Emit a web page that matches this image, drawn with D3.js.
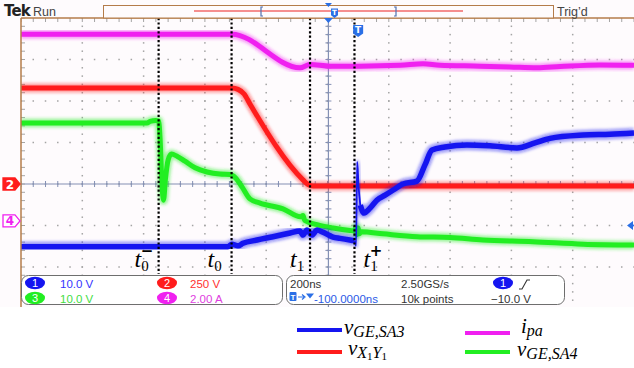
<!DOCTYPE html>
<html><head><meta charset="utf-8">
<script src="https://cdn.jsdelivr.net/npm/d3@7"></script>
<style>body{margin:0;background:#fff;}svg{display:block}</style>
</head><body>
<svg id="c" width="634" height="368"></svg>
<script>
// ---------------- DATA ----------------
const channelNames = ["1", "2", "3", "4"];
const channelScales = [10, 250, 10, 2];          // units per division
const channelUnits = ["V", "V", "V", "A"];
const channelGroundDiv = [0, 0, 0, -0.89];       // ground marker position (divisions from centre)
const timeDomainNs = [-1000, 1000];              // 200 ns/div, 10 divisions
const timePerDiv = 200;

// ch1: v_GE,SA3  [time ns, volts]
const vGE_SA3 = [[-1000,-15.1],[-325,-15.1],[-312,-14.5],[-292,-14.9],[-276,-14.3],[-230,-13.5],[-178,-12.7],[-122,-11.8],[-90,-11.3],[-80,-12.3],[-67,-11.1],[-51,-12.3],[-34,-11.1],[-15,-11.6],[18,-12.8],[41,-13.1],[73,-13.5],[88,-13.7],[93,-14.9],[97,5.3],[101,-0.2],[107,-5.1],[119,-7.0],[139,-5.8],[161,-3.9],[188,-2.7],[220,-1.2],[246,0.0],[292,0.7],[318,4.6],[341,8.2],[383,8.9],[455,9.4],[530,9.2],[618,8.7],[677,9.9],[726,11.0],[834,11.8],[922,12.0],[1000,12.3]];
// ch2: v_X1Y1  [time ns, volts]
const vX1Y1 = [[-1000,578],[-312,578],[-292,570],[-272,542],[-253,482],[-80,25],[-64,-2],[-47,-12],[1000,-12]];
// ch3: v_GE,SA4  [time ns, volts]
const vGE_SA4 = [[-1000,14.7],[-589,14.7],[-579,15.1],[-560,15.3],[-551,15.2],[-546,10.6],[-540,-0.2],[-535,-3.9],[-529,1.0],[-520,5.8],[-509,7.2],[-491,6.7],[-465,5.5],[-432,3.9],[-393,2.9],[-351,2.4],[-318,2.3],[-299,1.4],[-279,-0.7],[-253,-3.6],[-220,-4.6],[-145,-6.0],[-88,-7.9],[-80,-7.6],[-74,-8.8],[-34,-9.8],[18,-10.6],[73,-11.2],[88,-11.3],[92,-10.4],[96,-12.2],[100,-10.6],[104,-12.0],[110,-11.5],[181,-12.0],[292,-12.7],[400,-12.9],[507,-13.5],[670,-13.9],[834,-14.5],[1000,-14.7]];
// ch4: i_pa  [time ns, amps]
const iPa = [[-1000,9.0],[-312,9.0],[-90,7.38],[-57,7.54],[8,7.46],[106,7.46],[237,7.50],[312,7.58],[367,7.50],[498,7.46],[595,7.42],[684,7.38],[759,7.44],[889,7.52],[1000,7.50]];

const markerTimes = [-551, -313, -57, 88];
const markerLabels = [["t","0","−"],["t","0",""],["t","1",""],["t","1","+"]];
const triggerTimeNs = 100;
const expansionTimeNs = 3;
const triggerLevelV = -10;
const spikeWindowNs = [88, 107];   // fast transient drawn as a thin persistence trace

const legendItems = [
  {main:"v", sub:"GE,SA3", ch:0},
  {main:"i", sub:"pa", ch:3},
  {main:"v", sub:"X", ch:1},
  {main:"v", sub:"GE,SA4", ch:2}
];
const statusTexts = ["200ns", "2.50GS/s", "-100.0000ns", "10k points", "−10.0 V"];

// ---------------- STYLE / LAYOUT ----------------
const colors = ["#1515f0", "#ff1c1c", "#22ee22", "#f020f0"];
const textColors = ["#3535ff", "#ff3030", "#44dd44", "#e040e0"];
const P = {left:21, right:634, top:18, div:41.5, visBottom:307};
const svg = d3.select("#c");

const x = d3.scaleLinear().domain(timeDomainNs).range([P.left, P.right]);
const divY = d3.scaleLinear().domain([-4, 4]).range([P.top + 8*P.div, P.top]);
function chY(ch){
  const s = channelScales[ch], g = channelGroundDiv[ch];
  return d3.scaleLinear().domain([(-4-g)*s, (4-g)*s]).range(divY.range());
}

const defs = svg.append("defs");
defs.append("clipPath").attr("id","clip").append("rect")
  .attr("x",P.left).attr("y",P.top).attr("width",P.right-P.left).attr("height",P.visBottom-P.top);
const f = defs.append("filter").attr("id","glow").attr("x","-10%").attr("y","-10%").attr("width","120%").attr("height","120%");
f.append("feGaussianBlur").attr("stdDeviation",1.6);

// background
svg.append("rect").attr("width",634).attr("height",368).attr("fill","#ffffff");
svg.append("rect").attr("x",0).attr("y",0).attr("width",634).attr("height",P.visBottom).attr("fill","#fefbfd");

const g = svg.append("g").attr("clip-path","url(#clip)");

// grid dots
const gridColor = "#a4a4a4";
const dots = [];
for (let k=-3;k<=3;k++){
  for (let t=timeDomainNs[0]; t<=timeDomainNs[1]; t+=timePerDiv/5) dots.push([x(t), divY(k)]);
}
for (let t=timeDomainNs[0]+timePerDiv; t<timeDomainNs[1]; t+=timePerDiv){
  for (let j=-20;j<=20;j++) dots.push([x(t), divY(j/5)]);
}
g.selectAll("rect.dot").data(dots).join("rect").attr("class","dot")
  .attr("x",d=>d[0]-0.75).attr("y",d=>d[1]-0.75).attr("width",1.5).attr("height",1.5).attr("fill",gridColor);

// centre crosshair
const cross = "#8490b4";
g.append("line").attr("x1",P.left).attr("x2",P.right).attr("y1",divY(0)).attr("y2",divY(0)).attr("stroke",cross).attr("stroke-width",1.2);
g.append("line").attr("x1",x(expansionTimeNs)).attr("x2",x(expansionTimeNs)).attr("y1",P.top).attr("y2",P.visBottom).attr("stroke",cross).attr("stroke-width",1.2);
const hticks = d3.range(timeDomainNs[0], timeDomainNs[1]+1, timePerDiv/5);
g.selectAll("line.ht").data(hticks).join("line").attr("class","ht")
  .attr("x1",d=>x(d)).attr("x2",d=>x(d)).attr("y1",divY(0)-3).attr("y2",divY(0)+3).attr("stroke",cross);
g.selectAll("line.tt").data(hticks).join("line").attr("class","tt")
  .attr("x1",d=>x(d)).attr("x2",d=>x(d)).attr("y1",P.top).attr("y2",P.top+4).attr("stroke",gridColor);
const vticks = d3.range(-20,21).map(j=>j/5);
g.selectAll("line.vt").data(vticks).join("line").attr("class","vt")
  .attr("x1",x(expansionTimeNs)-3).attr("x2",x(expansionTimeNs)+3).attr("y1",d=>divY(d)).attr("y2",d=>divY(d)).attr("stroke",cross);
g.selectAll("line.lt").data(vticks).join("line").attr("class","lt")
  .attr("x1",P.left).attr("x2",P.left+4).attr("y1",d=>divY(d)).attr("y2",d=>divY(d)).attr("stroke",gridColor);

// traces
function drawTrace(data, ch, thin){
  const y = chY(ch);
  const line = d3.line().x(d=>x(d[0])).y(d=>y(d[1])).curve(d3.curveMonotoneX);
  if (thin){
    g.append("path").attr("d",line(data)).attr("fill","none").attr("stroke",colors[ch])
      .attr("stroke-width",4).attr("stroke-opacity",0.35).attr("filter","url(#glow)");
    g.append("path").attr("d",line(data)).attr("fill","none").attr("stroke",colors[ch]).attr("stroke-width",1.8);
    return;
  }
  g.append("path").attr("d",line(data)).attr("fill","none").attr("stroke",colors[ch])
    .attr("stroke-width",ch===0?10:9).attr("stroke-opacity",0.45).attr("filter","url(#glow)").attr("stroke-linejoin","round");
  g.append("path").attr("d",line(data)).attr("fill","none").attr("stroke",colors[ch])
    .attr("stroke-width",ch===0?5.5:5).attr("stroke-linejoin","round");
}
drawTrace(iPa,3);
drawTrace(vX1Y1,1);
drawTrace(vGE_SA4,2);
const sA = vGE_SA3.filter(d=>d[0]<=spikeWindowNs[0]);
const sB = vGE_SA3.filter(d=>d[0]>=spikeWindowNs[0] && d[0]<=spikeWindowNs[1]);
const sC = vGE_SA3.filter(d=>d[0]>=spikeWindowNs[1]);
drawTrace(sA,0); drawTrace(sC,0); drawTrace(sB,0,true);

// marker dotted lines
g.selectAll("line.mk").data(markerTimes).join("line").attr("class","mk")
  .attr("x1",d=>x(d)).attr("x2",d=>x(d)).attr("y1",P.top).attr("y2",274)
  .attr("stroke","#000").attr("stroke-width",2.2).attr("stroke-dasharray","2.2,2.2");

// marker labels
const ml = svg.append("g").attr("font-family","'Liberation Serif','DejaVu Serif',serif").attr("font-style","italic").attr("fill","#000");
const labelOffsets = [-24, -24, -20, 9];
markerTimes.forEach((t,i)=>{
  const lab = markerLabels[i];
  const tx = x(t) + labelOffsets[i];
  const txt = ml.append("text").attr("x",tx).attr("y",267).attr("font-size",24);
  txt.append("tspan").text(lab[0]);
  txt.append("tspan").attr("font-size",15).attr("font-style","normal").attr("dy",3.5).text(lab[1]);
  if (lab[2]) txt.append("tspan").attr("font-size",15).attr("font-style","normal").attr("font-weight","bold")
    .attr("font-family","'DejaVu Sans',sans-serif").attr("dx",-8).attr("dy",-15).text(lab[2]);
});

// frame
const frame = "#b47c4a";
svg.append("line").attr("x1",P.left).attr("x2",P.right).attr("y1",P.top).attr("y2",P.top).attr("stroke",frame).attr("stroke-width",1.5);
svg.append("line").attr("x1",P.left).attr("x2",P.left).attr("y1",P.top).attr("y2",P.visBottom).attr("stroke",frame).attr("stroke-width",1.5);

// top bar
svg.append("text").attr("x",4).attr("y",16).attr("font-family","'DejaVu Sans',sans-serif").attr("font-weight","bold").attr("font-size",15).attr("fill","#222").attr("letter-spacing",-0.8).text("Tek");
svg.append("text").attr("x",33).attr("y",16).attr("font-family","'Liberation Sans',sans-serif").attr("font-size",12.5).attr("fill","#444").text("Run");
svg.append("rect").attr("x",103.5).attr("y",5.5).attr("width",450).attr("height",12.5).attr("fill","#fefbfd").attr("stroke",frame).attr("stroke-width",1);
svg.append("line").attr("x1",194).attr("x2",463).attr("y1",11).attr("y2",11).attr("stroke","#f26a6a").attr("stroke-width",1.5);
[[261,1],[396,-1]].forEach(([bx,dir])=>{
  svg.append("path").attr("d",`M${bx+2*dir},7 L${bx},7 L${bx},16 L${bx+2*dir},16`).attr("fill","none").attr("stroke","#5070b0").attr("stroke-width",1.2);
});
svg.append("text").attr("x",557).attr("y",16).attr("font-family","'Liberation Sans',sans-serif").attr("font-size",12.5).attr("fill","#444").text("Trig’d");

function shield(cx, top, w, h){
  const gg = svg.append("g");
  gg.append("path").attr("d",`M${cx-w/2},${top} h${w} v${h*0.7} l${-w/2},${h*0.3} l${-w/2},${-h*0.3} z`).attr("fill","#2a6fe6");
  gg.append("text").attr("x",cx).attr("y",top+h*0.68).attr("text-anchor","middle").attr("font-family","'DejaVu Sans',sans-serif")
    .attr("font-weight","bold").attr("font-size",h*0.75).attr("fill","#fff").text("T");
}
// trigger markers
svg.append("path").attr("d",`M${x(expansionTimeNs)-3.5},3 h7 l-3.5,4 z`).attr("fill","#2a6fe6");
shield(334.5, 8.5, 7, 9.5);
svg.append("path").attr("d",`M${x(expansionTimeNs)-4.5},18 h9 l-4.5,5 z`).attr("fill","#2a6fe6");
shield(x(triggerTimeNs), 25, 10, 12);
// trigger level arrow (ch1)
const tl = chY(0)(triggerLevelV);
svg.append("path").attr("d",`M627,${tl} l6,-4.5 v9 z`).attr("fill","#2a6fe6");
svg.append("line").attr("x1",630).attr("x2",634).attr("y1",tl).attr("y2",tl).attr("stroke","#2a6fe6").attr("stroke-width",1.5);

// channel markers on left
function chMarker(ch, filled){
  const y = chY(ch)(0);
  const col = colors[ch];
  svg.append("path").attr("d",`M3,${y-6} h12 l5,6 l-5,6 h-12 z`)
    .attr("fill",filled?col:"#fff").attr("stroke",col).attr("stroke-width",1.3);
  svg.append("text").attr("x",10).attr("y",y+4.5).attr("text-anchor","middle").attr("font-family","'DejaVu Sans',sans-serif")
    .attr("font-weight","bold").attr("font-size",12).attr("fill",filled?"#fff":col).text(channelNames[ch]);
}
chMarker(1,true);
chMarker(3,false);

// status boxes
const sb = svg.append("g").attr("font-family","'Liberation Sans',Arial,sans-serif").attr("font-size",11.5);
sb.append("rect").attr("x",21.5).attr("y",275.5).attr("width",261).attr("height",29).attr("rx",7).attr("fill","#fff").attr("stroke","#6e6e6e");
sb.append("rect").attr("x",286.5).attr("y",275.5).attr("width",278).attr("height",29).attr("rx",7).attr("fill","#fff").attr("stroke","#6e6e6e");
function badge(cx, cy, ch){
  sb.append("ellipse").attr("cx",cx).attr("cy",cy).attr("rx",10).attr("ry",6.2).attr("fill",colors[ch]);
  sb.append("text").attr("x",cx).attr("y",cy+4).attr("text-anchor","middle").attr("fill","#fff").attr("font-size",11).text(channelNames[ch]);
}
const chPos = [[35,283,60],[167,283,190],[35,298,60],[167,298,190]];
[0,1,2,3].forEach(ch=>{
  const [bx,by,tx] = chPos[ch];
  badge(bx,by,ch);
  const val = ch===1 ? "250" : (channelScales[ch]).toFixed(ch===3?2:1);
  sb.append("text").attr("x",tx).attr("y",by+4.5).attr("fill",textColors[ch]).text(val+" "+channelUnits[ch]);
});
sb.append("text").attr("x",290).attr("y",287.5).attr("fill","#333").text(statusTexts[0]);
sb.append("text").attr("x",401).attr("y",287.5).attr("fill","#333").text(statusTexts[1]);
sb.append("text").attr("x",401).attr("y",302.5).attr("fill","#333").text(statusTexts[3]);
sb.append("text").attr("x",491).attr("y",302.5).attr("fill","#333").text(statusTexts[4]);
badge(503,283,0);
sb.append("path").attr("d","M519,289 h3 l5,-9 h3").attr("fill","none").attr("stroke","#333").attr("stroke-width",1.1);
sb.append("rect").attr("x",289.5).attr("y",292).attr("width",7).attr("height",9).attr("rx",1).attr("fill","#2a6fe6");
sb.append("text").attr("x",293).attr("y",300).attr("text-anchor","middle").attr("fill","#fff").attr("font-size",8).attr("font-weight","bold").text("T");
sb.append("path").attr("d","M298,297 h6 M302,294.5 l3,2.5 l-3,2.5").attr("fill","none").attr("stroke","#2a6fe6").attr("stroke-width",1.2);
sb.append("path").attr("d","M306,293.5 h8 l-4,5 z").attr("fill","#2a6fe6");
sb.append("text").attr("x",314).attr("y",302.5).attr("fill","#2a5ae6").text(statusTexts[2]);

// legend
const lg = svg.append("g").attr("font-family","'Liberation Serif','DejaVu Serif',serif").attr("font-style","italic").attr("fill","#000");
const legPos = [[297,330,344,334],[465,333,521,333],[297,352,348,355],[465,352,517,356]];
legendItems.forEach((it,i)=>{
  const [lx,ly,tx,ty] = legPos[i];
  lg.append("line").attr("x1",lx).attr("x2",lx+45).attr("y1",ly).attr("y2",ly).attr("stroke",colors[it.ch]).attr("stroke-width",4);
  const t = lg.append("text").attr("x",tx).attr("y",ty).attr("font-size",21);
  t.append("tspan").text(it.main);
  t.append("tspan").attr("font-size",16).attr("dy",3).text(it.sub);
  if (it.ch===1){
    t.append("tspan").attr("font-size",11).attr("font-style","normal").attr("dy",2).text("1");
    t.append("tspan").attr("font-size",16).attr("dy",-2).text("Y");
    t.append("tspan").attr("font-size",11).attr("font-style","normal").attr("dy",2).text("1");
  }
});
</script>
</body></html>
